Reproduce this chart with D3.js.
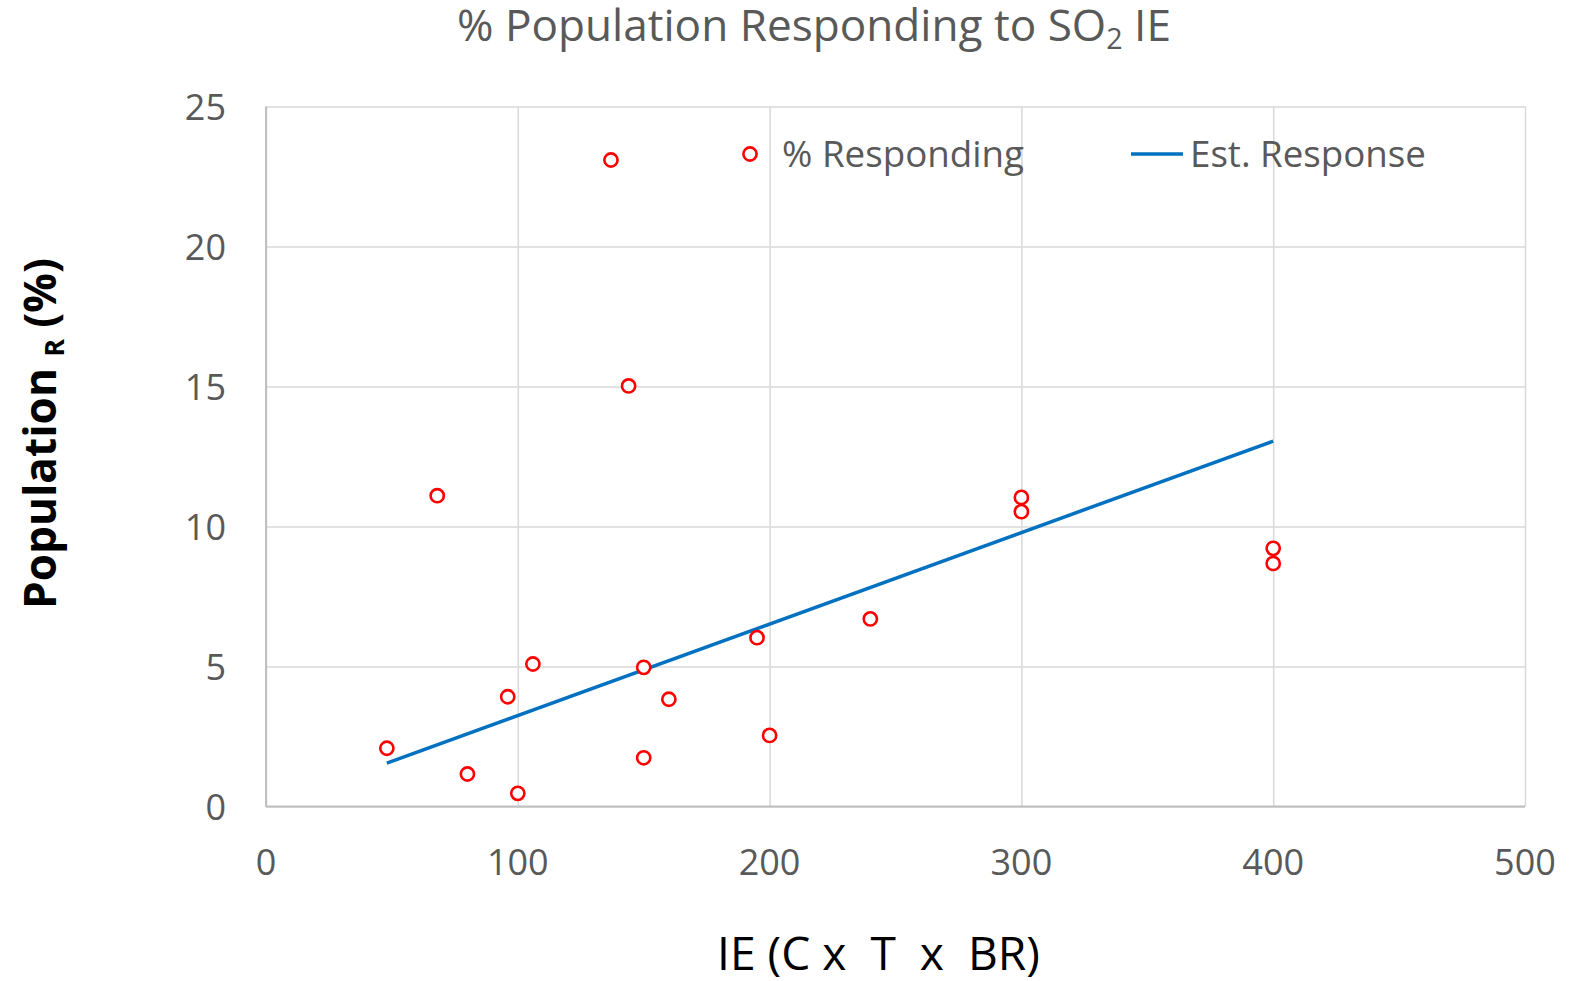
<!DOCTYPE html>
<html>
<head>
<meta charset="utf-8">
<script src="https://cdn.jsdelivr.net/npm/d3@7"></script>
<style>
  body { margin: 0; background: #fff; }
  text { font-family: "Open Sans", sans-serif; white-space: pre; }
</style>
</head>
<body>
<svg id="chart" width="1586" height="981"></svg>
<script>
// data
var ieValues  = [48, 68, 80, 96, 100, 106, 137, 144, 150, 150, 160, 195, 200, 240, 300, 300, 400, 400];
var pctValues = [2.08, 11.1, 1.16, 3.92, 0.47, 5.09, 23.09, 15.02, 4.97, 1.74, 3.83, 6.03, 2.54, 6.7, 11.04, 10.53, 9.22, 8.68];
var trendX = [48, 400];
var trendY = [1.55, 13.05];
var xTicks = [0, 100, 200, 300, 400, 500];
var yTicks = [0, 5, 10, 15, 20, 25];
var seriesNames = ["% Responding", "Est. Response"];

var svg = d3.select("#chart");
var plotLeft = 266, plotRight = 1525, plotTop = 106.5, plotBottom = 806.5;

var x = d3.scaleLinear().domain([0, 500]).range([plotLeft, plotRight]);
var y = d3.scaleLinear().domain([0, 25]).range([plotBottom, plotTop]);

// fits a text element to a width measured off the reference
function fit(sel, w) {
  var len = sel.node().getComputedTextLength();
  var fs = parseFloat(sel.style("font-size"));
  sel.style("font-size", (fs * w / len) + "px");
}

// grid
svg.append("g")
  .attr("transform", "translate(0," + plotBottom + ")")
  .call(d3.axisBottom(x).tickValues(xTicks).tickSize(-(plotBottom - plotTop)).tickFormat(""))
  .call(function(g) {
    g.select(".domain").remove();
    g.selectAll("line").attr("stroke", "#d9d9d9").attr("stroke-width", 1.5);
  });

svg.append("g")
  .attr("transform", "translate(" + plotLeft + ",0)")
  .call(d3.axisLeft(y).tickValues(yTicks).tickSize(-(plotRight - plotLeft)).tickFormat(""))
  .call(function(g) {
    g.select(".domain").remove();
    g.selectAll("line").attr("stroke", "#d9d9d9").attr("stroke-width", 1.5);
  });

// axis lines
svg.append("line").attr("x1", plotLeft).attr("x2", plotRight).attr("y1", plotBottom).attr("y2", plotBottom)
  .attr("stroke", "#bfbfbf").attr("stroke-width", 2);
svg.append("line").attr("x1", plotLeft).attr("x2", plotLeft).attr("y1", plotTop).attr("y2", plotBottom)
  .attr("stroke", "#bfbfbf").attr("stroke-width", 2);

// tick labels
svg.selectAll(".xl").data(xTicks).enter().append("text")
  .attr("x", function(d) { return x(d); })
  .attr("y", 875)
  .attr("text-anchor", "middle")
  .style("font-size", "36px").attr("fill", "#595959")
  .text(function(d) { return d; });

svg.selectAll(".yl").data(yTicks).enter().append("text")
  .attr("x", 226)
  .attr("y", function(d) { return y(d) + 13; })
  .attr("text-anchor", "end")
  .style("font-size", "36px").attr("fill", "#595959")
  .text(function(d) { return d; });

// trend line
svg.append("path")
  .datum(d3.zip(trendX, trendY))
  .attr("d", d3.line().x(function(d) { return x(d[0]); }).y(function(d) { return y(d[1]); }))
  .attr("fill", "none").attr("stroke", "#0070c0").attr("stroke-width", 3.5);

// points
svg.selectAll(".pt").data(d3.zip(ieValues, pctValues)).enter().append("circle")
  .attr("cx", function(d) { return x(d[0]); })
  .attr("cy", function(d) { return y(d[1]); })
  .attr("r", 6.6)
  .attr("fill", "#fff").attr("stroke", "#ff0000").attr("stroke-width", 2.6);

// legend
svg.append("circle").attr("cx", 750).attr("cy", 154).attr("r", 6.6)
  .attr("fill", "#fff").attr("stroke", "#ff0000").attr("stroke-width", 2.6);
var l1 = svg.append("text").attr("x", 782).attr("y", 167)
  .style("font-size", "36px").attr("fill", "#595959").text(seriesNames[0]);
fit(l1, 242);
svg.append("line").attr("x1", 1131).attr("x2", 1183).attr("y1", 154).attr("y2", 154)
  .attr("stroke", "#0070c0").attr("stroke-width", 3.5);
var l2 = svg.append("text").attr("x", 1190).attr("y", 167)
  .style("font-size", "36px").attr("fill", "#595959").text(seriesNames[1]);
fit(l2, 236);

// title
var title = svg.append("text").attr("x", 457).attr("y", 41)
  .style("font-size", "40px").attr("fill", "#595959");
title.append("tspan").text("% Population Responding to SO");
title.append("tspan").attr("dy", 8).style("font-size", "0.65em").text("2");
title.append("tspan").attr("dy", -8).text(" IE");
fit(title, 714);

// x axis title
var xt = svg.append("text").attr("x", 717).attr("y", 970)
  .style("font-size", "40px").attr("fill", "#000").text("IE (C x  T  x  BR)");
fit(xt, 323);

// y axis title
var yt = svg.append("text")
  .attr("transform", "translate(56,609) rotate(-90)")
  .style("font-size", "40px").style("font-weight", "bold").attr("fill", "#000");
yt.append("tspan").text("Population ");
yt.append("tspan").attr("dy", 8).style("font-size", "0.6em").text("R");
yt.append("tspan").attr("dy", -8).text(" (%)");
fit(yt, 351);
</script>
</body>
</html>
